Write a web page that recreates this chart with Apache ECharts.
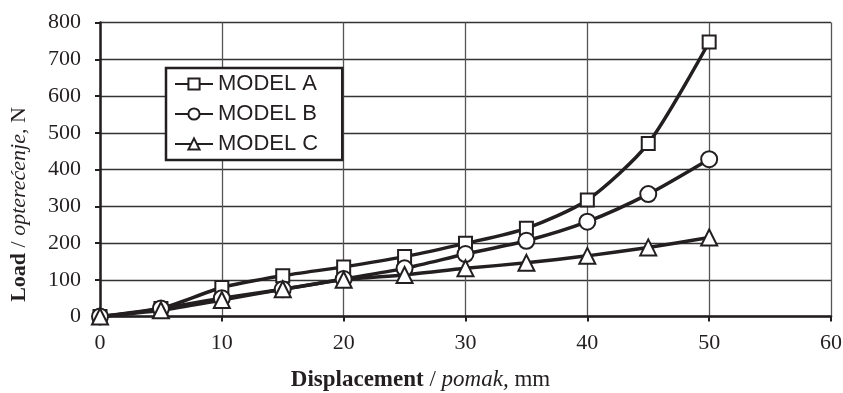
<!DOCTYPE html>
<html>
<head>
<meta charset="utf-8">
<script src="https://cdn.jsdelivr.net/npm/echarts@6/dist/echarts.min.js"></script>
<style>
  html, body { margin: 0; padding: 0; background: #fff; }
  #chart { width: 843px; height: 393px; }
</style>
</head>
<body>
<div id="chart"></div>
<script>
// displacement, mm
const displacement = [0, 5, 10, 15, 20, 25, 30, 35, 40, 45, 50];
// load, N
const modelA = [0, 22, 79, 111, 135, 163, 199, 240, 317, 471, 747];
const modelB = [0, 22, 50, 74, 102, 131, 170, 206, 258, 333, 428];
const modelC = [0, 17, 45, 74, 100, 113, 131, 146, 165, 188, 215];
const seriesNames = ['MODEL A', 'MODEL B', 'MODEL C'];

const ink = '#231f20';
const serif = '"Liberation Serif", "Times New Roman", serif';

const pairs = (ys) => displacement.map((x, i) => [x, ys[i]]);

const chart = echarts.init(document.getElementById('chart'));

const makeSeries = (name, ys, symbol, size) => ({
  name: name,
  type: 'line',
  data: pairs(ys),
  smooth: 0.25,
  symbol: symbol,
  symbolSize: size,
  lineStyle: { color: ink, width: 3.5 },
  itemStyle: { color: '#fff', borderColor: ink, borderWidth: 2 },
  emphasis: { disabled: true },
  z: 3
});

chart.setOption({
  animation: false,
  grid: { left: 100, right: 12, top: 22.5, bottom: 76.5, containLabel: false, outerBoundsMode: 'none' },
  legend: {
    orient: 'vertical',
    left: 166,
    top: 68,
    padding: [5, 24, 5, 8],
    itemGap: 8,
    itemWidth: 38,
    itemHeight: 14,
    borderColor: ink,
    borderWidth: 2.5,
    backgroundColor: '#fff',
    textStyle: { fontFamily: '"Liberation Sans", Arial, sans-serif', fontSize: 22, color: ink },
    data: seriesNames
  },
  xAxis: {
    type: 'value',
    min: 0,
    max: 60,
    interval: 10,
    name: '{b|Displacement} / {i|pomak,} mm',
    nameLocation: 'middle',
    nameGap: 52,
    nameTextStyle: {
      fontFamily: serif, fontSize: 23, color: ink,
      padding: [0, 90, 0, 0],
      rich: {
        b: { fontFamily: serif, fontSize: 23, fontWeight: 'bold', color: ink },
        i: { fontFamily: serif, fontSize: 23, fontStyle: 'italic', color: ink }
      }
    },
    axisLine: { show: true, lineStyle: { color: ink, width: 2.5 } },
    axisTick: { show: true, length: 5, lineStyle: { color: ink, width: 2 } },
    axisLabel: { fontFamily: serif, fontSize: 22, color: ink, margin: 16 },
    splitLine: { show: true, lineStyle: { color: '#555', width: 1.3 } }
  },
  yAxis: {
    type: 'value',
    min: 0,
    max: 800,
    interval: 100,
    name: '{b|Load} / {i|opterećenje,} N',
    nameLocation: 'middle',
    nameGap: 70,
    nameTextStyle: {
      fontFamily: serif, fontSize: 22, color: ink,
      padding: [0, 70, 0, 0],
      rich: {
        b: { fontFamily: serif, fontSize: 22, fontWeight: 'bold', color: ink },
        i: { fontFamily: serif, fontSize: 22, fontStyle: 'italic', color: ink }
      }
    },
    axisLine: { show: true, lineStyle: { color: ink, width: 2.5 } },
    axisTick: { show: true, length: 5, lineStyle: { color: ink, width: 2 } },
    axisLabel: { fontFamily: serif, fontSize: 22, color: ink, margin: 19 },
    splitLine: { show: true, lineStyle: { color: '#333', width: 1.3 } }
  },
  series: [
    makeSeries(seriesNames[0], modelA, 'rect', 13),
    makeSeries(seriesNames[1], modelB, 'circle', 16),
    makeSeries(seriesNames[2], modelC, 'triangle', 16)
  ]
});
</script>
</body>
</html>
